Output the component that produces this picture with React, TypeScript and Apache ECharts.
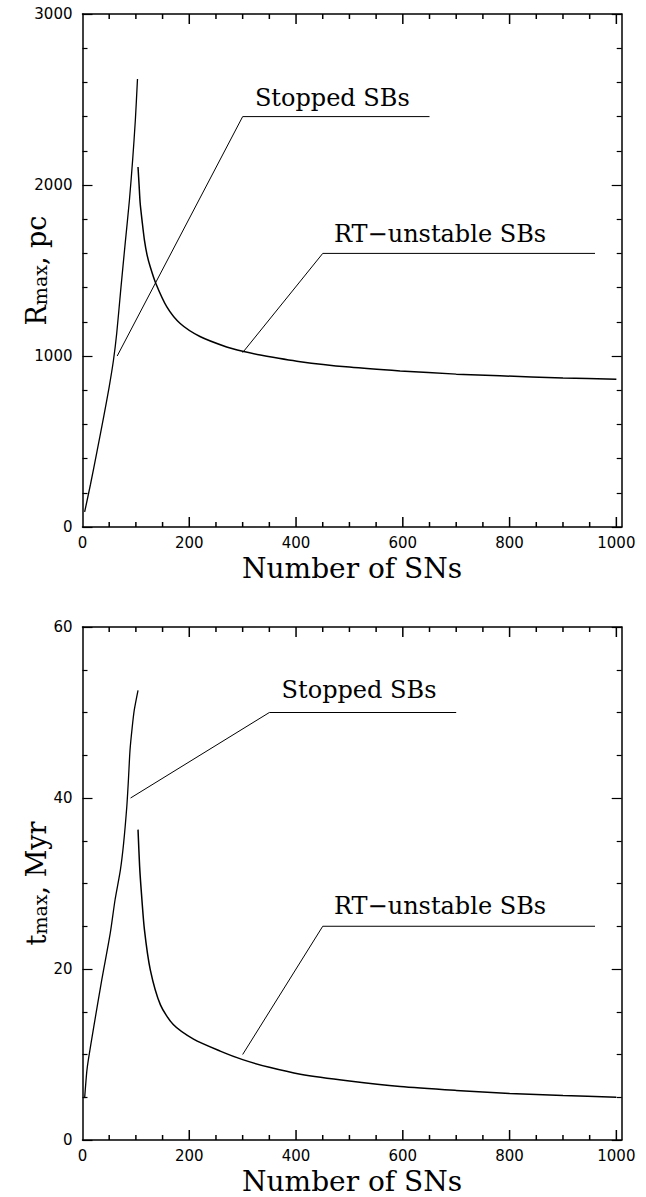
import React, { useEffect, useRef } from 'react';
import * as echarts from 'echarts';

// Top panel: R_max (pc) vs number of SNs
const stoppedN_R = [4, 15, 27, 40, 50, 58, 64, 72, 80, 88, 94, 99, 103];
const stoppedR = [88, 250, 440, 650, 820, 975, 1130, 1400, 1660, 1915, 2150, 2380, 2620];
const rtN_R = [104, 106, 108, 112, 116, 121, 127, 137, 158, 183, 220, 270, 300, 333, 408, 500, 595, 700, 782, 900, 1000];
const rtR = [2105, 2000, 1895, 1780, 1678, 1590, 1520, 1427, 1287, 1190, 1114, 1053, 1028, 1006, 967, 935, 913, 894, 884, 872, 864];

// Bottom panel: t_max (Myr) vs number of SNs
const stoppedN_t = [4, 8, 11, 21, 36, 52, 61, 71, 77, 83, 86, 89, 93, 97, 104];
const stoppedT = [4.9, 8.0, 9.4, 13.2, 18.7, 24.2, 28.1, 31.6, 34.7, 39.0, 42.1, 45.6, 48.2, 50.3, 52.6];
const rtN_t = [104, 107, 110, 116, 127, 146, 170, 208, 258, 300, 350, 408, 500, 595, 700, 800, 900, 1000];
const rtT = [36.3, 32.0, 29.2, 24.6, 19.9, 15.8, 13.5, 11.8, 10.4, 9.4, 8.5, 7.7, 6.9, 6.25, 5.8, 5.45, 5.2, 5.0];

// Annotation leader lines (data coordinates)
const leaderStoppedR = [[65, 1000], [300, 2400], [650, 2400]];
const leaderRtR = [[300, 1020], [450, 1600], [960, 1600]];
const leaderStoppedT = [[90, 40], [350, 50], [700, 50]];
const leaderRtT = [[300, 10], [450, 25], [960, 25]];

// Annotation label anchors
const labelsR = [
  { name: 'Stopped SBs', value: [322, 2510] },
  { name: 'RT\u2212unstable SBs', value: [470, 1715] },
];
const labelsT = [
  { name: 'Stopped SBs', value: [372, 52.6] },
  { name: 'RT\u2212unstable SBs', value: [470, 27.4] },
];

// X-axis tick values (major labelled every 200, minor every 50)
const xMajorTicks = [200, 400, 600, 800, 1000];
const xMinorTicks = [50, 100, 150, 250, 300, 350, 450, 500, 550, 650, 700, 750, 850, 900, 950];

const xMax = 1010;
const xMajor = 200;
const GRID_H = 513;

const zip = (a: number[], b: number[]) => a.map((v, i) => [v, b[i]]);

const BLACK = '#000';
const SERIF = 'DejaVu Serif';
const SANS = 'DejaVu Sans';

function xAxes(grid: number) {
  const common = {
    gridIndex: grid,
    type: 'value',
    min: 0,
    max: xMax,
    interval: xMajor,
    splitLine: { show: false },
    axisTick: { show: false },
  };
  return [
    {
      ...common,
      position: 'bottom',
      axisLine: { show: true, onZero: false, lineStyle: { color: BLACK, width: 1.5 } },
      axisLabel: {
        show: true,
        showMaxLabel: false,
        color: BLACK,
        fontFamily: SANS,
        fontSize: 15,
        margin: 8,
        formatter: (v: number) => String(v),
      },
      name: 'Number of SNs',
      nameLocation: 'middle',
      nameGap: 30,
      nameMoveOverlap: false,
      nameTextStyle: { color: BLACK, fontFamily: SERIF, fontSize: 28, lineHeight: 22, verticalAlign: 'top' },
    },
    {
      ...common,
      position: 'top',
      axisLine: { show: true, onZero: false, lineStyle: { color: BLACK, width: 1.5 } },
      axisLabel: { show: false },
    },
  ];
}

function yAxes(grid: number, max: number, interval: number, minorSplit: number, main: string, unit: string) {
  const common = {
    gridIndex: grid,
    type: 'value',
    min: 0,
    max,
    interval,
    splitLine: { show: false },
    axisLine: { show: true, onZero: false, lineStyle: { color: BLACK, width: 1.5 } },
    axisTick: { show: true, inside: true, length: 10, lineStyle: { color: BLACK, width: 1.2 } },
    minorTick: { show: true, splitNumber: minorSplit, length: 5, lineStyle: { color: BLACK, width: 1.2 } },
    minorSplitLine: { show: false },
  };
  return [
    {
      ...common,
      position: 'left',
      axisLabel: {
        show: true,
        color: BLACK,
        fontFamily: SANS,
        fontSize: 15,
        margin: 10,
        formatter: (v: number) => String(v),
      },
      name: `{a|${main}}{b|max}{a|, ${unit}}`,
      nameLocation: 'middle',
      nameRotate: 90,
      nameGap: 33,
      nameMoveOverlap: false,
      nameTextStyle: {
        color: BLACK,
        rich: {
          a: { fontFamily: SERIF, fontSize: 27, lineHeight: 27, verticalAlign: 'top', color: BLACK },
          b: { fontFamily: SERIF, fontSize: 19, lineHeight: 19, verticalAlign: 'bottom', padding: [14, 0, 0, 0], color: BLACK },
        },
      },
    },
    {
      ...common,
      position: 'right',
      axisLabel: { show: false },
    },
  ];
}

function curve(data: any[], xi: number, yi: number, width = 1.3, smooth: number | boolean = 0.25) {
  return {
    type: 'line',
    xAxisIndex: xi,
    yAxisIndex: yi,
    data,
    showSymbol: false,
    symbol: 'none',
    smooth,
    connectNulls: false,
    lineStyle: { color: BLACK, width },
    silent: true,
  };
}

function labels(data: any[], xi: number, yi: number) {
  return {
    type: 'scatter',
    xAxisIndex: xi,
    yAxisIndex: yi,
    data,
    symbolSize: 1,
    itemStyle: { color: 'rgba(0,0,0,0)' },
    silent: true,
    label: {
      show: true,
      position: 'right',
      distance: 0,
      formatter: (p: any) => p.name,
      color: BLACK,
      opacity: 1,
      fontFamily: SERIF,
      fontSize: 24,
    },
  };
}

// Tick marks on bottom and top frame edges as broken line segments in data space
function tickSeries(xi: number, yi: number, yMax: number) {
  const perPx = yMax / GRID_H;
  const segs: any[] = [];
  const add = (vals: number[], lenPx: number) => {
    const d = lenPx * perPx;
    vals.forEach((v) => {
      segs.push([v, 0], [v, d], [v, '-']);
      segs.push([v, yMax], [v, yMax - d], [v, '-']);
    });
  };
  add(xMajorTicks, 10);
  add(xMinorTicks, 5);
  return { ...curve(segs, xi, yi, 1.5, false), z: 5, clip: false };
}

export default function App() {
  const ref = useRef<HTMLDivElement>(null);
  useEffect(() => {
    if (!ref.current) return;
    const chart = echarts.init(ref.current, undefined, { renderer: 'svg' });
    chart.setOption({
      animation: false,
      backgroundColor: '#fff',
      grid: [
        { left: 82.5, top: 14, width: 539.2, height: GRID_H, containLabel: false, outerBoundsMode: 'none' },
        { left: 82.5, top: 627, width: 539.2, height: GRID_H, containLabel: false, outerBoundsMode: 'none' },
      ],
      xAxis: [...xAxes(0), ...xAxes(1)],
      yAxis: [
        ...yAxes(0, 3000, 1000, 5, 'R', 'pc'),
        ...yAxes(1, 60, 20, 4, 't', 'Myr'),
      ],
      series: [
        tickSeries(0, 0, 3000),
        curve(zip(stoppedN_R, stoppedR), 0, 0),
        curve(zip(rtN_R, rtR), 0, 0, 1.5),
        curve(leaderStoppedR, 0, 0, 1, false),
        curve(leaderRtR, 0, 0, 1, false),
        labels(labelsR, 0, 0),
        tickSeries(2, 2, 60),
        curve(zip(stoppedN_t, stoppedT), 2, 2),
        curve(zip(rtN_t, rtT), 2, 2, 1.5),
        curve(leaderStoppedT, 2, 2, 1, false),
        curve(leaderRtT, 2, 2, 1, false),
        labels(labelsT, 2, 2),
      ],
    });
    return () => chart.dispose();
  }, []);
  return <div ref={ref} style={{ position: 'absolute', left: 0, top: 0, width: 646, height: 1197 }} />;
}
